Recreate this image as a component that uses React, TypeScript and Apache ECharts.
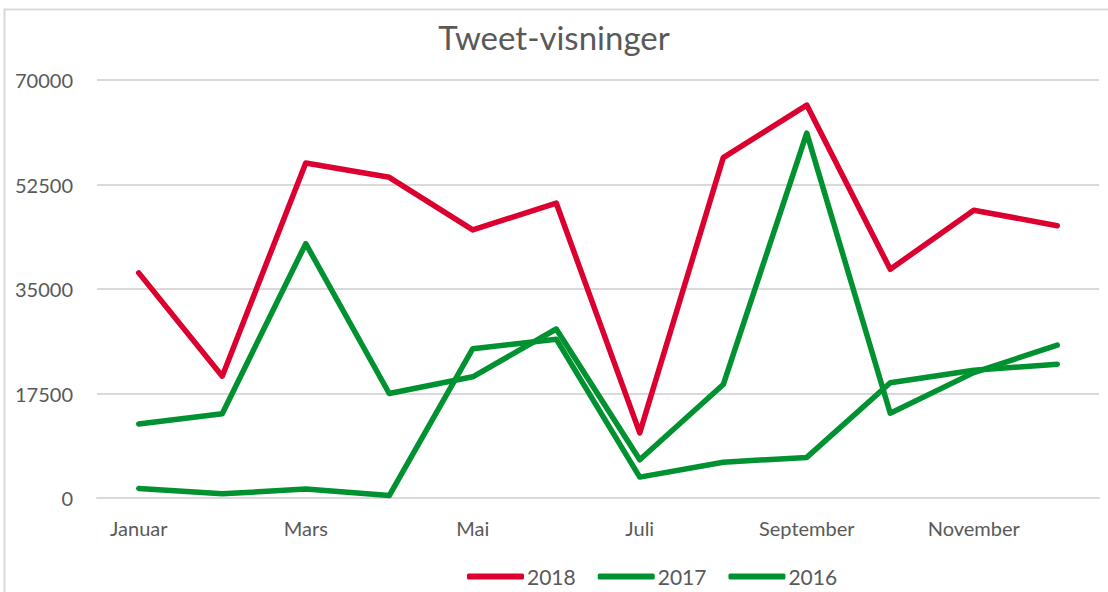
import React, { useEffect, useRef } from "react";
import * as echarts from "echarts";

const months = ["Januar", "Februar", "Mars", "April", "Mai", "Juni", "Juli", "August", "September", "Oktober", "November", "Desember"];
const s2018 = [37700, 20400, 56100, 53700, 44900, 49400, 10900, 57000, 65800, 38300, 48200, 45600];
const s2017 = [12400, 14100, 42600, 17500, 20300, 28300, 6400, 19000, 61100, 14200, 21000, 25600];
const s2016 = [1600, 700, 1500, 400, 25000, 26600, 3500, 6000, 6800, 19300, 21400, 22400];
const yTicks = [0, 17500, 35000, 52500, 70000];

const RED = "#dc0030";
const GREEN = "#009130";
const TEXT = "#595959";
const FONT = "Lato, 'Noto Sans', sans-serif";

export default function App() {
  const ref = useRef<HTMLDivElement>(null);
  useEffect(() => {
    if (!ref.current) return;
    const chart = echarts.init(ref.current, null, { renderer: "svg" });
    const mk = (name: string, data: number[], color: string) => ({
      name,
      type: "line",
      data,
      symbol: "none",
      color,
      lineStyle: { width: 5.5, color, cap: "round", join: "round" },
    });
    chart.setOption({
      animation: false,
      backgroundColor: "#ffffff",
      textStyle: { fontFamily: FONT },
      title: {
        text: "Tweet-visninger",
        left: "center",
        top: 15,
        textStyle: { fontFamily: FONT, fontSize: 33, fontWeight: "normal", color: TEXT },
      },
      graphic: [
        {
          type: "rect",
          shape: { x: 4.5, y: 9.5, width: 1200, height: 700 },
          style: { fill: "none", stroke: "#d9d9d9", lineWidth: 2 },
          silent: true,
        },
      ],
      legend: {
        bottom: 0,
        left: 462,
        icon: "roundRect",
        itemWidth: 57,
        itemHeight: 6,
        itemGap: 22,
        textStyle: { fontFamily: FONT, fontSize: 21, color: TEXT, padding: [0, 0, 0, -2] },
        data: ["2018", "2017", "2016"],
      },
      grid: { left: 97, right: 9, top: 80, bottom: 94, containLabel: false },
      xAxis: {
        type: "category",
        data: months,
        boundaryGap: true,
        axisTick: { show: false },
        axisLine: { lineStyle: { color: "#d9d9d9", width: 2 } },
        axisLabel: { interval: 1, margin: 20, fontFamily: FONT, fontSize: 20, color: TEXT },
      },
      yAxis: {
        type: "value",
        min: yTicks[0],
        max: yTicks[yTicks.length - 1],
        interval: 17500,
        axisLine: { show: false },
        axisTick: { show: false },
        axisLabel: {
          margin: 24,
          fontFamily: FONT,
          fontSize: 20,
          color: TEXT,
          formatter: (v: number) => String(v),
        },
        splitLine: { lineStyle: { color: "#d9d9d9", width: 2 } },
      },
      series: [mk("2018", s2018, RED), mk("2017", s2017, GREEN), mk("2016", s2016, GREEN)],
    });
    return () => chart.dispose();
  }, []);
  return (
    <div
      ref={ref}
      style={{ position: "fixed", left: 0, top: 0, width: 1108, height: 592, background: "#fff" }}
    />
  );
}
